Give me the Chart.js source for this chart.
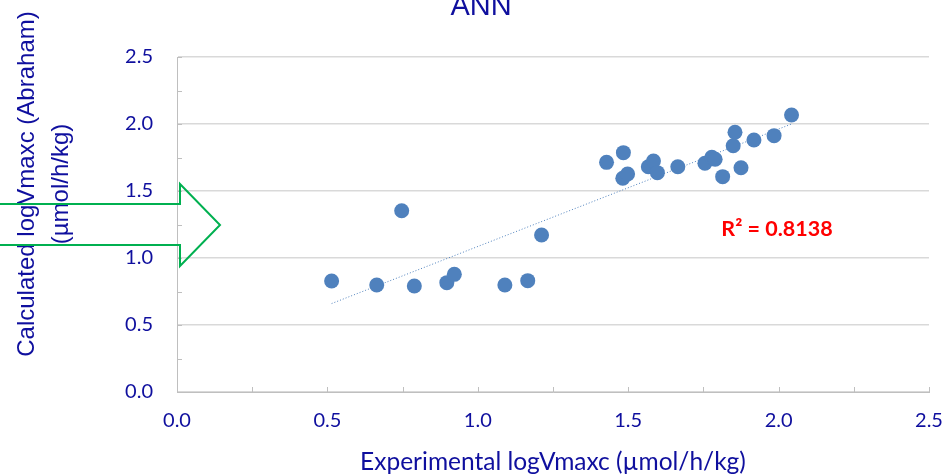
<!DOCTYPE html>
<html lang="en">
<head>
    <meta charset="UTF-8">
    <title>ANN</title>
    <script src="https://cdn.jsdelivr.net/npm/chart.js"></script>
    <style>
        body { margin: 0; background: #fff; }
        canvas { display: block; }
    </style>
</head>
<body>
    <canvas id="annChart" width="943" height="475"></canvas>

    <script>
        // experimental vs calculated logVmaxc
        const expX = [0.514, 0.664, 0.747, 0.789, 0.897, 0.922, 1.090, 1.166, 1.212, 1.428, 1.482, 1.484, 1.498, 1.567,
            1.584, 1.597, 1.665, 1.755, 1.778, 1.789, 1.814, 1.849, 1.855, 1.875, 1.918, 1.985, 2.043];
        const calcY = [0.828, 0.799, 1.353, 0.791, 0.816, 0.878, 0.799, 0.831, 1.172, 1.714, 1.595, 1.786, 1.627, 1.681,
            1.724, 1.637, 1.681, 1.707, 1.751, 1.737, 1.607, 1.838, 1.938, 1.674, 1.881, 1.913, 2.067];
        // trendline ends
        const trendX = [0.514, 2.043];
        const trendY = [0.660, 2.000];
        const axisMin = 0, axisMax = 2.5, minorStep = 0.25;
        const rSquared = 'R² = 0.8138';

        const blueText = '#0f0f9e';

        function isMajor(v) {
            return Math.abs(v * 2 - Math.round(v * 2)) < 1e-6;
        }

        const extras = {
            id: 'extras',
            afterDraw(chart) {
                const ctx = chart.ctx;
                const xs = chart.scales.x, ys = chart.scales.y;
                const area = chart.chartArea;
                ctx.save();

                // minor tick marks, pointing inward
                ctx.strokeStyle = '#bfbfbf';
                ctx.lineWidth = 1;
                for (let v = axisMin; v <= axisMax + 1e-9; v += minorStep) {
                    const px = Math.round(xs.getPixelForValue(v)) + 0.5;
                    ctx.beginPath();
                    ctx.moveTo(px, area.bottom);
                    ctx.lineTo(px, area.bottom - 5);
                    ctx.stroke();
                    const py = Math.round(ys.getPixelForValue(v)) + 0.5;
                    ctx.beginPath();
                    ctx.moveTo(area.left, py);
                    ctx.lineTo(area.left + 5, py);
                    ctx.stroke();
                }

                // chart title (cut at the top like the original)
                ctx.fillStyle = blueText;
                ctx.font = '29px "Liberation Sans", Arial, sans-serif';
                ctx.textAlign = 'center';
                ctx.textBaseline = 'alphabetic';
                ctx.fillText('ANN', 481, 15);

                // y axis title, two lines
                ctx.save();
                ctx.translate(0, 184);
                ctx.rotate(-Math.PI / 2);
                ctx.textBaseline = 'middle';
                ctx.font = '24px "Liberation Sans", Arial, sans-serif';
                ctx.fillText('Calculated logVmaxc (Abraham)', 0, 27);
                ctx.fillText('(µmol/h/kg)', 0, 61);
                ctx.restore();

                // x axis title
                ctx.font = '24.5px Lato, sans-serif';
                ctx.textBaseline = 'middle';
                ctx.fillText('Experimental logVmaxc (µmol/h/kg)', (area.left + area.right) / 2, 462);

                // R squared
                ctx.fillStyle = '#ff0000';
                ctx.font = 'bold 21.5px Lato, sans-serif';
                ctx.fillText(rSquared, 777, 229);

                // green outline arrow
                ctx.strokeStyle = '#00b050';
                ctx.lineWidth = 2;
                ctx.beginPath();
                ctx.moveTo(-2, 204);
                ctx.lineTo(180, 204);
                ctx.lineTo(180, 184);
                ctx.lineTo(220, 225);
                ctx.lineTo(180, 266);
                ctx.lineTo(180, 245);
                ctx.lineTo(-2, 245);
                ctx.stroke();

                ctx.restore();
            }
        };

        const tickCallback = v => isMajor(v) ? Number(v).toFixed(1) : '';

        new Chart(document.getElementById('annChart').getContext('2d'), {
            type: 'scatter',
            data: {
                datasets: [
                    {
                        label: 'ANN',
                        data: expX.map((x, i) => ({ x: x, y: calcY[i] })),
                        backgroundColor: '#4f81bd',
                        borderWidth: 0,
                        pointRadius: 7.5,
                        order: 1
                    },
                    {
                        type: 'line',
                        label: 'Linear',
                        data: trendX.map((x, i) => ({ x: x, y: trendY[i] })),
                        borderColor: '#4f81bd',
                        borderWidth: 1,
                        borderDash: [1, 2],
                        pointRadius: 0,
                        fill: false,
                        order: 2
                    }
                ]
            },
            options: {
                responsive: false,
                devicePixelRatio: 1,
                animation: false,
                layout: { padding: { top: 57, right: 14, left: 0, bottom: 0 } },
                plugins: {
                    legend: { display: false },
                    tooltip: { enabled: false }
                },
                scales: {
                    x: {
                        type: 'linear',
                        min: axisMin,
                        max: axisMax,
                        afterFit: s => {
                            s.height = 83;
                            s.paddingLeft = 0;
                            s.paddingRight = 0;
                        },
                        ticks: {
                            stepSize: minorStep,
                            autoSkip: false,
                            maxRotation: 0,
                            padding: 17,
                            color: blueText,
                            font: { family: 'Lato', size: 20 },
                            callback: tickCallback
                        },
                        grid: { drawOnChartArea: false, drawTicks: false },
                        border: { color: '#bfbfbf', width: 1 }
                    },
                    y: {
                        min: axisMin,
                        max: axisMax,
                        afterFit: s => { s.width = 177; },
                        ticks: {
                            stepSize: minorStep,
                            autoSkip: false,
                            padding: 24,
                            color: blueText,
                            font: { family: 'Lato', size: 20 },
                            callback: tickCallback
                        },
                        grid: {
                            drawTicks: false,
                            lineWidth: 1.5,
                            color: c => isMajor(c.tick.value) ? '#d9d9d9' : 'rgba(0,0,0,0)'
                        },
                        border: { color: '#bfbfbf', width: 1 }
                    }
                }
            },
            plugins: [extras]
        });
    </script>
</body>
</html>
